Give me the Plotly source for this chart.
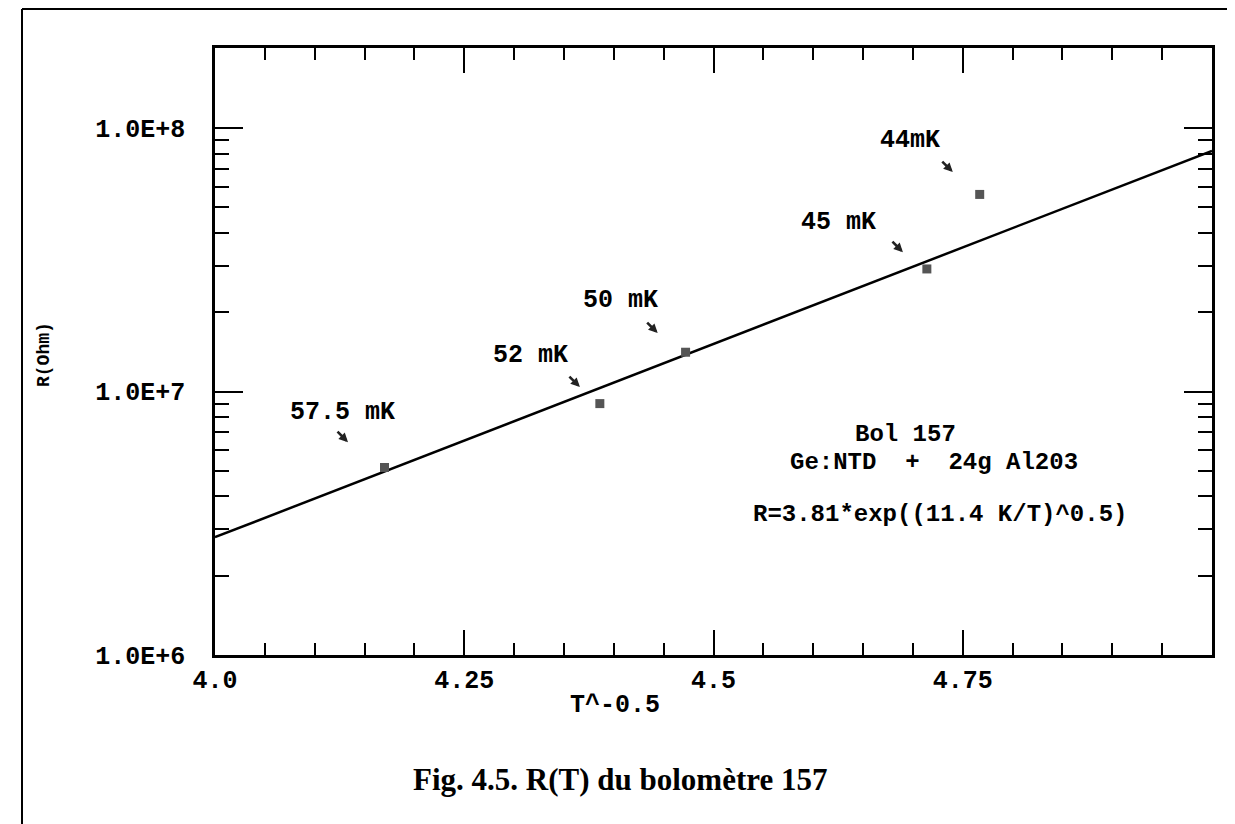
import plotly.graph_objects as go

# ---- data ----
temps_label = ["57.5 mK", "52 mK", "50 mK", "45 mK", "44mK"]
x_pts = [4.170, 4.386, 4.472, 4.714, 4.767]          # T^-0.5
r_pts = [5.15e6, 9.0e6, 1.41e7, 2.92e7, 5.6e7]       # R (Ohm)

fit_x = [4.0, 5.0]
fit_r = [2.8e6, 8.2e7]

x_tickvals = [4.0, 4.25, 4.5, 4.75]
x_ticktext = ["4.0", "4.25", "4.5", "4.75"]
y_tickvals = [1e6, 1e7, 1e8]
y_ticktext = ["1.0E+6", "1.0E+7", "1.0E+8"]
y_minor = [m * 10 ** e for e in (6, 7) for m in range(2, 10)] + [2e8]

MONO = "Liberation Mono, Courier New, monospace"
OFF = 8  # page body margin
W, H = 1235 - OFF, 824 - OFF
L, T = 215 - OFF, 48 - OFF
PW, PH = 997, 607
R = W - L - PW
B = H - T - PH


def px(xp):  # page pixel -> paper
    return (xp - OFF - L) / PW


def py(yp):
    return (T + PH - (yp - OFF)) / PH


fig = go.Figure()
fig.add_trace(go.Scatter(x=fit_x, y=fit_r, mode="lines",
                         line=dict(color="black", width=2.5),
                         showlegend=False, hoverinfo="skip"))
fig.add_trace(go.Scatter(x=x_pts, y=r_pts, mode="markers",
                         marker=dict(symbol="square", size=9, color="#555555",
                                     line=dict(width=0)),
                         text=temps_label, showlegend=False))

annots = []
label_pos = [(4.128, 6.922), (4.316, 7.135), (4.407, 7.347), (4.625, 7.643), (4.697, 7.954)]
arrow_pos = [(4.1334, 6.808), (4.366, 7.017), (4.444, 7.222), (4.690, 7.529), (4.740, 7.833)]
for lab, (lx, ly), (hx, hy) in zip(temps_label, label_pos, arrow_pos):
    annots.append(dict(x=lx, y=ly, xref="x", yref="y", text=lab, showarrow=False,
                       xanchor="center", yanchor="middle",
                       font=dict(family=MONO, size=25, color="black", weight="bold")))
    annots.append(dict(x=hx, y=hy, xref="x", yref="y", text="", showarrow=True,
                       ax=-12, ay=-12, arrowhead=2, arrowsize=0.7, arrowwidth=2.6,
                       arrowcolor="#222222", standoff=0))

txt = dict(showarrow=False, xref="paper", yref="paper", xanchor="center", yanchor="middle")
annots += [
    dict(x=px(905), y=py(434), text="Bol 157",
         font=dict(family=MONO, size=24, color="black", weight="bold"), **txt),
    dict(x=px(934), y=py(462), text="Ge:NTD  +  24g Al203",
         font=dict(family=MONO, size=24, color="black", weight="bold"), **txt),
    dict(x=px(940), y=py(514), text="R=3.81*exp((11.4 K/T)^0.5)",
         font=dict(family=MONO, size=24, color="black", weight="bold"), **txt),
    dict(x=px(615), y=py(705), text="T^-0.5",
         font=dict(family=MONO, size=25, color="black", weight="bold"), **txt),
    dict(x=px(44), y=py(355), text="R(Ohm)", textangle=-90,
         font=dict(family=MONO, size=18, color="black", weight="bold"), **txt),
    dict(x=px(620), y=py(779), text="Fig. 4.5. R(T) du bolomètre 157",
         font=dict(family="Liberation Serif, Times New Roman, serif", size=31,
                   color="black", weight="bold"), **txt),
]

shapes = [
    dict(type="line", xref="paper", yref="paper", x0=px(22), x1=px(1235), y0=py(9), y1=py(9),
         line=dict(color="black", width=2)),
    dict(type="line", xref="paper", yref="paper", x0=px(22), x1=px(22), y0=py(9), y1=py(824),
         line=dict(color="black", width=2)),
    dict(type="line", xref="paper", yref="paper", x0=px(1231), x1=px(1231), y0=py(513), y1=py(824),
         line=dict(color="black", width=1.5)),
]

fig.update_layout(
    width=W, height=H,
    margin=dict(l=L, r=R, t=T, b=B),
    paper_bgcolor="white", plot_bgcolor="white",
    annotations=annots, shapes=shapes,
    xaxis=dict(range=[4.0, 5.0], tickmode="array", tickvals=x_tickvals, ticktext=x_ticktext,
               ticks="inside", ticklen=25, tickwidth=2, tickcolor="black",
               minor=dict(dtick=0.05, tick0=4.0, ticks="inside", ticklen=12, tickwidth=2,
                          tickcolor="black", showgrid=False),
               showline=True, linecolor="black", linewidth=2.5, mirror="ticks",
               showgrid=False, zeroline=False,
               tickfont=dict(family=MONO, size=25, color="black", weight="bold")),
    yaxis=dict(type="log", range=[6, 8.304], tickmode="array", tickvals=y_tickvals,
               ticktext=y_ticktext, ticks="inside", ticklen=28, tickwidth=2, tickcolor="black",
               minor=dict(tickmode="array", tickvals=y_minor, ticks="inside", ticklen=14,
                          tickwidth=2, tickcolor="black", showgrid=False),
               showline=True, linecolor="black", linewidth=2.5, mirror="ticks",
               showgrid=False, zeroline=False, ticklabelstandoff=22,
               tickfont=dict(family=MONO, size=25, color="black", weight="bold")),
)

fig.write_html("out.html", config={"displayModeBar": False},
               post_script="document.body.style.overflow='hidden';")
